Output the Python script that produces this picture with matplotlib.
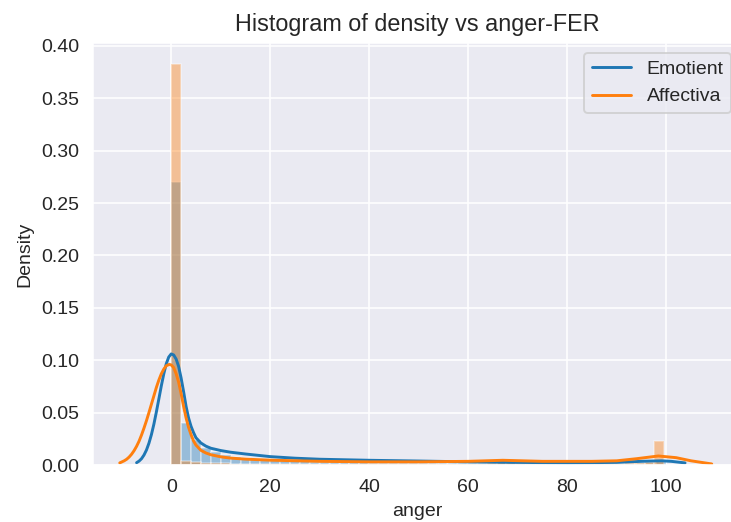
import matplotlib
matplotlib.use("Agg")
import matplotlib.pyplot as plt
import seaborn as sns
import numpy as np

sns.set_style("darkgrid")
plt.rcParams['font.family'] = ['Liberation Sans', 'DejaVu Sans']

# ---- data ----
series_names = ["Emotient", "Affectiva"]
colors = ["#1f77b4", "#ff7f0e"]

emotient_bin_edges = np.linspace(0, 100, 51)
emotient_hist = [0.270, 0.040, 0.024, 0.016, 0.012, 0.010, 0.008, 0.007, 0.006, 0.005,
                 0.005, 0.004, 0.004, 0.004, 0.003, 0.003, 0.003, 0.003, 0.003, 0.003,
                 0.002, 0.002, 0.002, 0.002, 0.002, 0.002, 0.002, 0.002, 0.002, 0.002,
                 0.002, 0.002, 0.002, 0.002, 0.002, 0.001, 0.001, 0.001, 0.001, 0.001,
                 0.001, 0.001, 0.001, 0.001, 0.001, 0.001, 0.001, 0.002, 0.002, 0.004]

affectiva_bin_edges = np.linspace(0, 99.6, 51)
affectiva_hist = [0.383, 0.004, 0.003, 0.002, 0.002, 0.002, 0.001, 0.001, 0.001, 0.001,
                  0.001, 0.001, 0.001, 0.001, 0.001, 0.001, 0.001, 0.001, 0.001, 0.001,
                  0.001, 0.001, 0.001, 0.001, 0.001, 0.001, 0.001, 0.001, 0.001, 0.001,
                  0.001, 0.001, 0.002, 0.003, 0.003, 0.002, 0.001, 0.001, 0.001, 0.001,
                  0.001, 0.001, 0.001, 0.001, 0.001, 0.001, 0.002, 0.002, 0.003, 0.023]

emotient_kde_x = [-7.0, -6.5, -6.0, -5.5, -5.0, -4.5, -4.0, -3.5, -3.0, -2.5, -2.0, -1.5,
                  -1.0, -0.5, 0.0, 0.5, 1.0, 1.5, 2.0, 2.5, 3.0, 3.5, 4.0, 4.5, 5.0,
                  6.0, 7.0, 8.0, 10.0, 12.0, 15.0, 20.0, 25.0, 30.0, 40.0, 50.0, 60.0,
                  70.0, 80.0, 90.0, 95.0, 99.0, 101.0, 103.8]
emotient_kde_y = [0.0022, 0.0037, 0.0060, 0.0095, 0.0143, 0.0208, 0.0290, 0.0390, 0.0506,
                  0.0630, 0.0755, 0.0870, 0.0966, 0.1030, 0.1060, 0.1050, 0.1010, 0.0940,
                  0.0830, 0.0700, 0.0560, 0.0450, 0.0370, 0.0310, 0.0260, 0.0210, 0.0180,
                  0.0160, 0.0138, 0.0122, 0.0105, 0.0080, 0.0065, 0.0055, 0.0045, 0.0038,
                  0.0030, 0.0025, 0.0020, 0.0025, 0.0035, 0.0040, 0.0035, 0.0020]

affectiva_kde_x = [-10.4, -9.5, -9.0, -8.5, -8.0, -7.5, -7.0, -6.5, -6.0, -5.5, -5.0, -4.5,
                   -4.0, -3.5, -3.0, -2.5, -2.0, -1.5, -1.0, -0.4, 0.0, 0.5, 1.0, 1.5,
                   2.0, 2.5, 3.0, 3.5, 4.0, 4.5, 5.0, 6.0, 7.0, 8.0, 10.0, 12.0, 15.0,
                   20.0, 30.0, 40.0, 50.0, 60.0, 67.0, 75.0, 85.0, 90.0, 94.0, 98.4,
                   102.0, 105.0, 109.2]
affectiva_kde_y = [0.0020, 0.0040, 0.0055, 0.0076, 0.0103, 0.0137, 0.0178, 0.0227, 0.0286,
                   0.0352, 0.0423, 0.0500, 0.0580, 0.0660, 0.0740, 0.0810, 0.0870, 0.0915,
                   0.0947, 0.0960, 0.0955, 0.0930, 0.0870, 0.0790, 0.0680, 0.0560, 0.0450,
                   0.0360, 0.0290, 0.0230, 0.0190, 0.0140, 0.0115, 0.0098, 0.0078, 0.0066,
                   0.0056, 0.0046, 0.0035, 0.0030, 0.0030, 0.0035, 0.0045, 0.0035, 0.0035,
                   0.0040, 0.0060, 0.0086, 0.0070, 0.0040, 0.0010]

# ---- figure ----
DPI = 140
W, H = 731, 522
fig = plt.figure(figsize=(W / DPI, H / DPI), dpi=DPI)
left_px, right_px, top_px, bottom_px = 93, 741, 43, 465
ax = fig.add_axes([left_px / W, 1 - bottom_px / H, (right_px - left_px) / W, (bottom_px - top_px) / H])

handles = []
for edges, hist, kx, ky, c, name in [
    (emotient_bin_edges, emotient_hist, emotient_kde_x, emotient_kde_y, colors[0], series_names[0]),
    (affectiva_bin_edges, affectiva_hist, affectiva_kde_x, affectiva_kde_y, colors[1], series_names[1]),
]:
    centers = (edges[:-1] + edges[1:]) / 2
    ax.hist(centers, bins=edges, weights=hist, color=c, alpha=0.4, edgecolor="white", linewidth=0.8)
    line, = ax.plot(kx, ky, color=c, lw=1.5, label=name, solid_joinstyle="round")
    handles.append(line)

ax.set_xlim(-15.8, 115.1)
ax.set_ylim(0, 0.4027)
ax.set_xticks([0, 20, 40, 60, 80, 100])
ax.set_yticks([0.0, 0.05, 0.10, 0.15, 0.20, 0.25, 0.30, 0.35, 0.40])
ax.set_yticklabels(["0.00", "0.05", "0.10", "0.15", "0.20", "0.25", "0.30", "0.35", "0.40"])
ax.tick_params(labelsize=10, colors=".15")
ax.set_xlabel("anger", fontsize=10, color=".15")
ax.set_ylabel("Density", fontsize=10, color=".15")
ax.set_title("Histogram of density vs anger-FER", fontsize=12, color=".15")
ax.legend(handles=handles, loc="upper right", fontsize=10)

fig.savefig("out.png", dpi=DPI)
